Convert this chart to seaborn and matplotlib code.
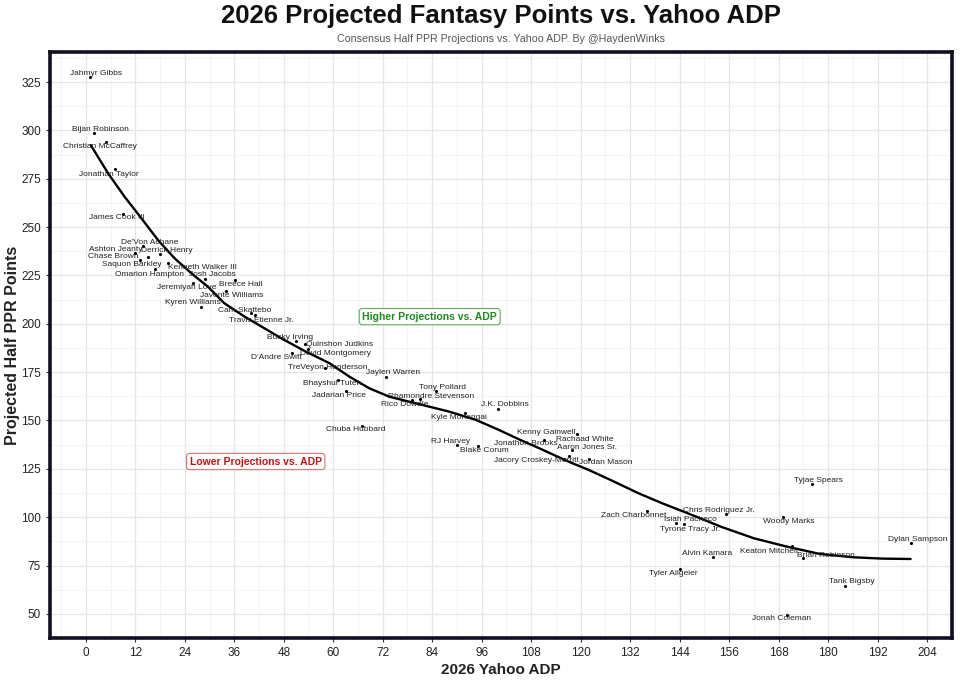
import pandas as pd
import seaborn as sns
import matplotlib.pyplot as plt
import numpy as np

# Players: name, Yahoo ADP, projected half PPR points
players = [
    "Jahmyr Gibbs", "Bijan Robinson", "Christian McCaffrey", "Jonathan Taylor",
    "James Cook III", "Ashton Jeanty", "Chase Brown", "De'Von Achane",
    "Saquon Barkley", "Omarion Hampton", "Derrick Henry", "Kenneth Walker III",
    "Jeremiyah Love", "Kyren Williams", "Josh Jacobs", "Javonte Williams",
    "Breece Hall", "Cam Skattebo", "Travis Etienne Jr.", "D'Andre Swift",
    "Bucky Irving", "Quinshon Judkins", "David Montgomery", "TreVeyon Henderson",
    "Bhayshul Tuten", "Jadarian Price", "Chuba Hubbard", "Jaylen Warren",
    "Rico Dowdle", "Rhamondre Stevenson", "Tony Pollard", "RJ Harvey",
    "Kyle Monangai", "Blake Corum", "J.K. Dobbins", "Jonathon Brooks",
    "Jacory Croskey-Merritt", "Aaron Jones Sr.", "Rachaad White", "Kenny Gainwell",
    "Jordan Mason", "Zach Charbonnet", "Tyrone Tracy Jr.", "Tyler Allgeier",
    "Isiah Pacheco", "Alvin Kamara", "Chris Rodriguez Jr.", "Woody Marks",
    "Jonah Coleman", "Keaton Mitchell", "Brian Robinson", "Tyjae Spears",
    "Tank Bigsby", "Dylan Sampson",
]
adp = [
    1.0, 1.9, 5.0, 7.0, 9.0, 12.0, 13.1, 13.9, 15.1, 16.8, 18.0, 19.9,
    26.0, 28.0, 29.0, 34.0, 36.1, 40.1, 41.1, 50.0, 51.0, 53.2, 54.0, 58.0,
    61.1, 63.1, 67.0, 72.9, 79.0, 81.0, 84.9, 89.9, 92.0, 95.1, 100.0, 111.1,
    115.9, 117.1, 117.9, 119.1, 122.0, 136.1, 143.0, 144.2, 145.0, 152.0,
    155.2, 169.1, 170.1, 171.2, 173.9, 176.1, 184.1, 200.0,
]
points = [
    327.7, 298.5, 294.1, 280.0, 257.0, 236.8, 233.0, 240.2, 234.7, 228.2,
    235.9, 231.3, 221.0, 208.8, 223.2, 217.0, 222.6, 205.4, 204.4, 185.1,
    191.3, 189.6, 186.9, 177.0, 171.0, 165.3, 147.4, 172.7, 160.4, 161.0,
    165.4, 137.1, 153.8, 136.9, 156.0, 140.0, 130.1, 131.7, 134.6, 142.9,
    130.1, 103.4, 96.9, 73.4, 96.5, 79.3, 101.5, 100.3, 49.5, 85.1, 78.8,
    117.2, 64.6, 86.9,
]

# smoothed trend line as drawn on the chart
trend_adp = [1.2, 5.4, 9.4, 13.5, 17.5, 21.5, 25.6, 29.6, 33.6, 38.5, 43.3,
             47.4, 53.0, 59.1, 63.9, 68.7, 73.6, 80.0, 88.1, 94.6, 100.2,
             105.0, 110.0, 117.0, 122.0, 128.0, 134.0, 140.0, 146.0, 154.0,
             162.0, 170.0, 178.0, 186.0, 193.0, 200.0]
trend_pts = [292.4, 277.8, 265.7, 254.5, 243.3, 233.9, 226.1, 219.2, 210.6,
             203.7, 197.7, 192.5, 186.0, 179.6, 172.7, 166.7, 162.3, 158.9,
             154.6, 150.3, 145.1, 140.3, 135.6, 128.8, 124.4, 118.5, 112.4,
             107.0, 102.0, 95.1, 89.1, 84.8, 81.0, 79.3, 78.6, 78.4]

x_ticks = list(range(0, 205, 12))
y_ticks = list(range(50, 326, 25))

# label offsets from each dot, in pixels (repel-style placement)
label_offsets = [
    (6, 3), (7, 4), (-6, -5), (-6, -5), (-6, -4), (-20, 3), (-27, 3), (7, 4),
    (-16, -8), (-6, -5), (7, 4), (35, -4), (-6, -4), (-8, 4), (7, 4), (6, -5),
    (6, -4), (-7, 3), (6, -5), (-16, -5), (-6, 3), (34, -1), (27, -4), (3, 1),
    (-6, -4), (-7, -5), (-6, -4), (7, 4), (-7, -4), (11, 3), (7, 3), (-6, 4),
    (-6, -4), (6, -5), (7, 4), (-18, -4), (-27, -2), (18, 8), (13, 11),
    (-31, 2), (17, -4), (-13, -5), (15, -6), (-7, -5), (7, 4), (-6, 4),
    (-7, 4), (6, -5), (-6, -4), (-23, -5), (23, 3), (6, 3), (7, 4), (7, 3),
]

df = pd.DataFrame({'player': players, 'adp': adp, 'proj': points})
trend = pd.DataFrame({'adp': trend_adp, 'proj': trend_pts})

sns.set_theme(style="whitegrid")
plt.rcParams['font.family'] = ['Liberation Sans', 'DejaVu Sans']

fig = plt.figure(figsize=(9.6, 6.81), dpi=100)
ax = fig.add_axes([0.052, 0.063, 0.9395, 0.8606])

sns.lineplot(data=trend, x='adp', y='proj', color='black', linewidth=1.7, ax=ax)
sns.scatterplot(data=df, x='adp', y='proj', color='black', s=5,
                edgecolor=None, linewidth=0, ax=ax, zorder=4)

for (name, xv, yv), (dx, dy) in zip(zip(players, adp, points), label_offsets):
    ax.annotate(name, (xv, yv), xytext=(dx, dy), textcoords='offset pixels',
                ha='center', va='center', fontsize=6, color='#222222', zorder=5)

ax.text(83.4, 203.7, 'Higher Projections vs. ADP', color='#1e8a1e',
        fontsize=7.5, fontweight='bold', ha='center', va='center',
        bbox=dict(boxstyle='round,pad=0.3', fc='white', ec='#5fae5f', lw=0.8))
ax.text(41.2, 128.8, 'Lower Projections vs. ADP', color='#cc1111',
        fontsize=7.5, fontweight='bold', ha='center', va='center',
        bbox=dict(boxstyle='round,pad=0.3', fc='white', ec='#e07070', lw=0.8))

ax.set_xlim(-8.7, 209.6)
ax.set_ylim(37.6, 340.5)
ax.set_xticks(x_ticks)
ax.set_yticks(y_ticks)
ax.set_xticks([t + 6 for t in x_ticks] + [-6], minor=True)
ax.set_yticks([t + 12.5 for t in y_ticks] + [37.5], minor=True)
ax.grid(which='major', color='#e6e6e6', linewidth=0.9)
ax.grid(which='minor', color='#f2f2f2', linewidth=0.6)
ax.set_facecolor('white')
for sp in ax.spines.values():
    sp.set_visible(True)
    sp.set_color('#101020')
    sp.set_linewidth(2.6)
ax.tick_params(axis='both', which='major', labelsize=8.5, length=3,
               width=0.8, color='#333333', labelcolor='#222222', bottom=True, left=True)
ax.tick_params(axis='both', which='minor', length=0)

ax.set_xlabel('2026 Yahoo ADP', fontsize=11, fontweight='bold', color='#222222', labelpad=3)
ax.set_ylabel('Projected Half PPR Points', fontsize=11.5, fontweight='bold', color='#222222', labelpad=1)

fig.text(0.522, 0.976, '2026 Projected Fantasy Points vs. Yahoo ADP', ha='center',
         va='center', fontsize=18.5, fontweight='bold', color='#111111')
fig.text(0.522, 0.942, 'Consensus Half PPR Projections vs. Yahoo ADP. By @HaydenWinks',
         ha='center', va='center', fontsize=7.7, color='#555555')

fig.savefig('out.png', dpi=100)
